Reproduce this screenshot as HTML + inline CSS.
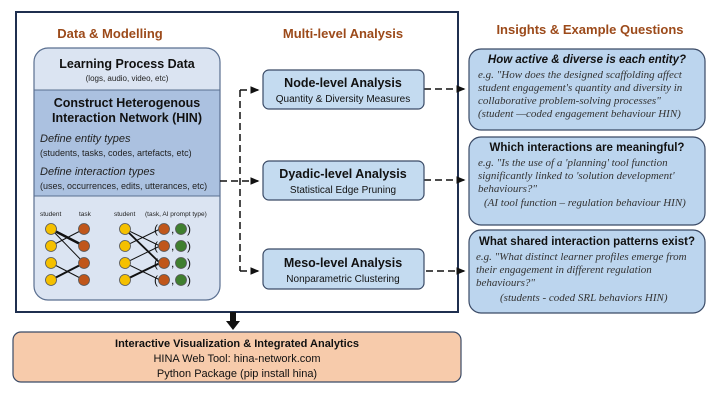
<!DOCTYPE html>
<html><head><meta charset="utf-8"><style>
body{margin:0;background:#fff;width:713px;height:402px;overflow:hidden}
text{font-family:"Liberation Sans",sans-serif}
.s{font-family:"Liberation Serif",serif;font-style:italic;font-size:11px;fill:#333}
</style></head><body>
<svg width="713" height="402" xmlns="http://www.w3.org/2000/svg">
<defs><marker id="a" markerWidth="6" markerHeight="6" refX="5" refY="3" orient="auto"><path d="M0,0.5L6,3L0,5.5z" fill="#111"/></marker></defs>
<rect x="16" y="12" width="442" height="300" fill="#fff" stroke="#1f2f4f" stroke-width="2"/>
<text x="110" y="38" font-size="13" font-weight="bold" fill="#9c4a1a" text-anchor="middle">Data &amp; Modelling</text>
<text x="343" y="38" font-size="13" font-weight="bold" fill="#9c4a1a" text-anchor="middle">Multi-level Analysis</text>
<text x="590" y="34" font-size="13" font-weight="bold" fill="#9c4a1a" text-anchor="middle">Insights &amp; Example Questions</text>
<clipPath id="c"><rect x="34" y="48" width="186" height="252" rx="14"/></clipPath>
<g clip-path="url(#c)">
<rect x="34" y="48" width="186" height="252" fill="#dbe4f2"/>
<rect x="34" y="90" width="186" height="106" fill="#abc1e0" stroke="#5a6f90" stroke-width="1"/>
</g>
<rect x="34" y="48" width="186" height="252" rx="14" fill="none" stroke="#5a6f90" stroke-width="1.2"/>
<text x="127" y="68" font-size="12.5" font-weight="bold" text-anchor="middle" fill="#111">Learning Process Data</text>
<text x="127" y="81" font-size="8" text-anchor="middle" fill="#222">(logs, audio, video, etc)</text>
<text x="127" y="107" font-size="12.5" font-weight="bold" text-anchor="middle" fill="#111">Construct Heterogenous</text>
<text x="127" y="122" font-size="12.5" font-weight="bold" text-anchor="middle" fill="#111">Interaction Network (HIN)</text>
<text x="40" y="142" font-size="11" font-style="italic" fill="#222">Define entity types</text>
<text x="40" y="156" font-size="9" fill="#222">(students, tasks, codes, artefacts, etc)</text>
<text x="40" y="175" font-size="11" font-style="italic" fill="#222">Define interaction types</text>
<text x="40" y="189" font-size="9" fill="#222">(uses, occurrences, edits, utterances, etc)</text>
<text x="40" y="216" font-size="6.5" fill="#222">student</text>
<text x="79" y="216" font-size="6.5" fill="#222">task</text>
<text x="114" y="216" font-size="6.5" fill="#222">student</text>
<text x="145" y="216" font-size="6.5" fill="#222">(task, AI prompt type)</text>
<g stroke="#111">
<line x1="51" y1="229" x2="84" y2="246" stroke-width="2.5"/>
<line x1="51" y1="229" x2="84" y2="263" stroke-width="1"/>
<line x1="51" y1="246" x2="84" y2="229" stroke-width="1"/>
<line x1="51" y1="263" x2="84" y2="280" stroke-width="1"/>
<line x1="51" y1="280" x2="84" y2="263" stroke-width="2"/>
<line x1="125" y1="229" x2="160" y2="263" stroke-width="1.8"/>
<line x1="125" y1="229" x2="160" y2="246" stroke-width="1"/>
<line x1="125" y1="246" x2="160" y2="229" stroke-width="1"/>
<line x1="125" y1="263" x2="160" y2="246" stroke-width="1"/>
<line x1="125" y1="263" x2="160" y2="280" stroke-width="1"/>
<line x1="125" y1="280" x2="160" y2="263" stroke-width="2"/>
</g>
<g stroke="#555" stroke-width="0.8">
<g fill="#f5c000"><circle cx="51" cy="229" r="5.5"/><circle cx="51" cy="246" r="5.5"/><circle cx="51" cy="263" r="5.5"/><circle cx="51" cy="280" r="5.5"/>
<circle cx="125" cy="229" r="5.5"/><circle cx="125" cy="246" r="5.5"/><circle cx="125" cy="263" r="5.5"/><circle cx="125" cy="280" r="5.5"/></g>
<g fill="#c0561a"><circle cx="84" cy="229" r="5.5"/><circle cx="84" cy="246" r="5.5"/><circle cx="84" cy="263" r="5.5"/><circle cx="84" cy="280" r="5.5"/>
<circle cx="164" cy="229" r="5.5"/><circle cx="164" cy="246" r="5.5"/><circle cx="164" cy="263" r="5.5"/><circle cx="164" cy="280" r="5.5"/></g>
<g fill="#3f7f2f"><circle cx="181" cy="229" r="5.5"/><circle cx="181" cy="246" r="5.5"/><circle cx="181" cy="263" r="5.5"/><circle cx="181" cy="280" r="5.5"/></g>
</g>
<g font-size="12" fill="#111">
<text x="154" y="233">(</text><text x="171" y="233">,</text><text x="187" y="233">)</text>
<text x="154" y="250">(</text><text x="171" y="250">,</text><text x="187" y="250">)</text>
<text x="154" y="267">(</text><text x="171" y="267">,</text><text x="187" y="267">)</text>
<text x="154" y="284">(</text><text x="171" y="284">,</text><text x="187" y="284">)</text>
</g>
<g stroke="#111" stroke-width="1.5" stroke-dasharray="7,4" fill="none">
<path d="M220 181H258" marker-end="url(#a)"/>
<path d="M240 90V271"/>
<path d="M240 90H258" marker-end="url(#a)"/>
<path d="M240 271H258" marker-end="url(#a)"/>
<path d="M424 89H464" marker-end="url(#a)"/>
<path d="M424 180H464" marker-end="url(#a)"/>
<path d="M426 271H464" marker-end="url(#a)"/>
</g>
<g fill="#c4dbf0" stroke="#3a4a66" stroke-width="1.2">
<rect x="263" y="70" width="161" height="39" rx="6"/>
<rect x="263" y="161" width="161" height="39" rx="6"/>
<rect x="263" y="249" width="161" height="40" rx="6"/>
</g>
<g text-anchor="middle" fill="#111">
<text x="343" y="87" font-size="12.5" font-weight="bold">Node-level Analysis</text>
<text x="343" y="102" font-size="10">Quantity &amp; Diversity Measures</text>
<text x="343" y="178" font-size="12.5" font-weight="bold">Dyadic-level Analysis</text>
<text x="343" y="193" font-size="10">Statistical Edge Pruning</text>
<text x="343" y="267" font-size="12.5" font-weight="bold">Meso-level Analysis</text>
<text x="343" y="282" font-size="10">Nonparametric Clustering</text>
</g>
<g fill="#bcd5ee" stroke="#3a4a66" stroke-width="1.2">
<rect x="469" y="49" width="236" height="81" rx="12"/>
<rect x="469" y="137" width="236" height="88" rx="12"/>
<rect x="469" y="230" width="236" height="83" rx="12"/>
</g>
<text x="587" y="63" font-size="11.5" font-weight="bold" font-style="italic" text-anchor="middle" fill="#111">How active &amp; diverse is each entity?</text>
<text x="478" y="78" class="s">e.g. "How does the designed scaffolding affect</text>
<text x="478" y="91" class="s">student engagement's quantity and diversity in</text>
<text x="478" y="104" class="s">collaborative problem-solving processes"</text>
<text x="478" y="117" class="s">(student —coded engagement behaviour HIN)</text>
<text x="587" y="151" font-size="11.5" font-weight="bold" text-anchor="middle" fill="#111">Which interactions are meaningful?</text>
<text x="478" y="166" class="s">e.g. "Is the use of a 'planning' tool function</text>
<text x="478" y="179" class="s">significantly linked to 'solution development'</text>
<text x="478" y="192" class="s">behaviours?"</text>
<text x="484" y="206" class="s">(AI tool function – regulation behaviour HIN)</text>
<text x="587" y="245" font-size="11.5" font-weight="bold" text-anchor="middle" fill="#111">What shared interaction patterns exist?</text>
<text x="476" y="260" class="s">e.g. "What distinct learner profiles emerge from</text>
<text x="476" y="273" class="s">their engagement in different regulation</text>
<text x="476" y="286" class="s">behaviours?"</text>
<text x="500" y="301" class="s">(students - coded SRL behaviors HIN)</text>
<rect x="230" y="312" width="6" height="10" fill="#111"/>
<path d="M226 321L240 321L233 330z" fill="#111"/>
<rect x="13" y="332" width="448" height="50" rx="8" fill="#f7cbab" stroke="#3a4a66" stroke-width="1.2"/>
<g text-anchor="middle" fill="#111">
<text x="237" y="347" font-size="11" font-weight="bold">Interactive Visualization  &amp; Integrated Analytics</text>
<text x="237" y="362" font-size="11">HINA Web Tool: hina-network.com</text>
<text x="237" y="377" font-size="11">Python Package (pip install hina)</text>
</g>
</svg>
</body></html>
